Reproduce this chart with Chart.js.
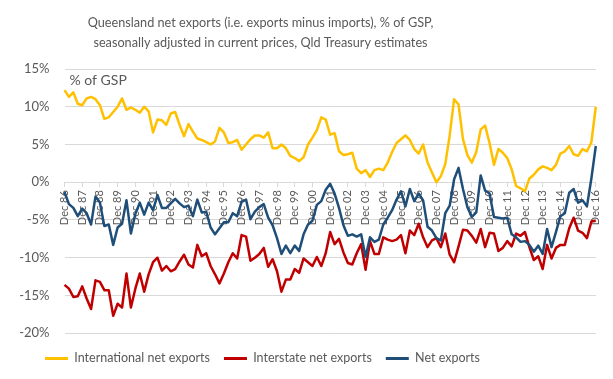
<!DOCTYPE html>
<html>
<head>
<meta charset="utf-8">
<script src="https://cdn.jsdelivr.net/npm/chart.js@4/dist/chart.umd.min.js"></script>
<style>
  html, body { margin: 0; padding: 0; background: #ffffff; }
  #wrap { width: 613px; height: 379px; position: relative; }
</style>
</head>
<body>
<div id="wrap"><canvas id="c"></canvas></div>
<script>
// ---- Data (quarterly, Dec 1986 – Dec 2016), % of GSP ----
const monthNames = ['Mar', 'Jun', 'Sep', 'Dec'];
const firstYear = 1986;
const lastYear = 2016;
const categories = [];
for (let y = firstYear; y <= lastYear; y++) {
  for (let q = 0; q < 4; q++) {
    if (y === firstYear && q < 3) continue;
    categories.push(monthNames[q] + ' ' + String(y % 100).padStart(2, '0'));
  }
}

const seriesNames = ['International net exports', 'Interstate net exports', 'Net exports'];
const seriesColors = ['#FFC000', '#C00000', '#1F4E79'];

const internationalNet = [
  12.2, 11.3, 11.9, 10.4, 10.2, 11.1, 11.3, 11.0, 10.2, 8.4, 8.6, 9.3, 10.0, 11.1, 9.6, 9.9,
  9.6, 9.2, 10.0, 9.4, 6.6, 8.3, 8.2, 7.6, 9.1, 9.3, 7.6, 6.1, 7.7, 6.7, 5.8,
  5.6, 5.3, 5.0, 5.4, 7.2, 6.6, 5.2, 5.3, 5.6, 4.3, 5.0, 5.7, 6.2, 6.2, 5.9,
  6.6, 4.5, 4.5, 5.0, 4.5, 3.5, 3.2, 2.8, 3.3, 5.0, 5.9, 6.9, 8.6, 8.3, 6.3,
  6.5, 4.1, 3.6, 3.7, 3.9, 1.8, 1.2, 1.6, 0.7, 1.6, 1.8, 1.6, 2.6, 4.0, 5.2,
  5.7, 6.2, 5.6, 4.4, 3.8, 5.0, 2.6, 1.3, 0.0, 0.8, 2.4, 6.2, 11.0, 10.3, 5.7,
  3.6, 2.6, 4.0, 7.0, 7.5, 5.2, 2.3, 4.4, 3.9, 3.2, 1.7, -0.5, -0.8, -1.2, 0.5,
  1.0, 1.7, 2.1, 1.9, 1.6, 2.3, 3.8, 4.1, 4.8, 3.7, 3.5, 4.4, 4.1, 5.3, 10.0
];

const interstateNet = [
  -13.6, -14.1, -15.2, -15.1, -13.8, -15.4, -16.8, -13.0, -13.2, -14.3, -14.3, -17.7, -16.1, -16.6, -12.1, -16.6,
  -14.1, -12.1, -14.5, -12.2, -10.6, -10.0, -11.7, -11.1, -11.8, -11.5, -10.5, -9.6, -10.9, -11.3, -8.3,
  -9.8, -9.4, -11.1, -12.2, -13.4, -12.1, -10.6, -9.4, -10.1, -7.0, -7.2, -10.4, -10.0, -9.5, -8.7,
  -11.2, -10.2, -11.8, -14.5, -12.9, -12.9, -11.5, -12.0, -10.1, -10.6, -11.1, -9.9, -11.1, -9.4, -6.6,
  -8.2, -7.5, -9.3, -10.7, -10.9, -9.4, -8.2, -11.6, -7.8, -9.5, -9.5, -7.3, -7.6, -7.8, -7.6,
  -7.0, -9.4, -6.4, -7.0, -5.5, -7.3, -8.6, -7.7, -7.4, -8.6, -6.8, -9.6, -10.6, -8.5, -6.3,
  -6.4, -7.1, -8.0, -6.2, -8.6, -6.7, -6.8, -9.1, -8.7, -7.8, -8.5, -6.8, -7.1, -6.6, -8.6,
  -10.3, -9.8, -11.5, -8.3, -10.1, -8.7, -8.3, -8.3, -6.1, -4.7, -6.4, -6.7, -7.4, -5.2, -5.1
];

const netExports = [
  -1.3, -2.9, -3.4, -4.5, -3.5, -4.1, -5.6, -1.9, -2.7, -5.8, -5.6, -8.3, -6.0, -5.5, -2.4, -6.8,
  -4.2, -2.7, -4.3, -2.7, -3.7, -1.7, -3.4, -3.4, -2.8, -2.2, -2.8, -3.3, -3.1, -4.5, -2.3,
  -4.0, -3.9, -6.0, -6.9, -6.1, -5.3, -5.3, -4.1, -4.5, -2.6, -2.3, -4.9, -3.9, -3.3, -2.9,
  -4.7, -5.7, -7.4, -9.5, -8.4, -9.4, -8.4, -9.1, -6.9, -5.6, -5.1, -3.0, -2.5, -1.0, -0.2,
  -1.5, -3.4, -5.7, -7.1, -6.9, -7.2, -6.9, -9.9, -7.3, -7.9, -7.6, -5.6, -4.7, -3.7, -2.3,
  -1.2, -3.2, -0.9, -2.5, -1.5, -2.4, -5.9, -6.4, -7.4, -7.7, -4.1, -3.1, 0.4, 1.9, -0.9,
  -3.3, -4.6, -4.0, 0.9, -1.1, -1.5, -4.6, -4.7, -4.8, -4.7, -6.9, -7.3, -7.9, -7.8, -8.3,
  -9.2, -8.4, -9.5, -6.2, -8.6, -6.6, -4.5, -4.1, -1.4, -0.9, -2.7, -2.4, -3.2, 0.5, 4.8
];

const yTicks = { min: -20, max: 15, step: 5 };
const titleLines = [
  'Queensland net exports (i.e. exports minus imports), % of GSP,',
  'seasonally adjusted in current prices, Qld Treasury estimates'
];
const axisNote = '% of GSP';

// ---- Styling ----
const FONT = 'Lato, "Open Sans", sans-serif';
const TEXT = '#595959';
const GRID = '#d9d9d9';
const LINE_W = 2.5;

const shiftPlugin = {
  id: 'shiftBlocks',
  afterLayout(chart) {
    const t = chart.titleBlock;
    if (t) { t.left = 0; t.right = 521; t.width = 521; }
    const l = chart.legend;
    if (l) { l.left = 0; l.right = 525; l.width = 525; l.top += 5; l.bottom += 5; }
  }
};

const notePlugin = {
  id: 'axisNote',
  afterDraw(chart) {
    const {ctx, chartArea, scales} = chart;
    ctx.save();
    ctx.font = '14px ' + FONT;
    ctx.fillStyle = TEXT;
    ctx.textAlign = 'left';
    ctx.textBaseline = 'middle';
    ctx.fillText(axisNote, chartArea.left + 5, scales.y.getPixelForValue(13.5));
    ctx.restore();
  }
};

Chart.defaults.font.family = FONT;
Chart.defaults.color = TEXT;

const makeDataset = (i, data, order) => ({
  label: seriesNames[i],
  data: data,
  borderColor: seriesColors[i],
  backgroundColor: seriesColors[i],
  borderWidth: LINE_W,
  pointRadius: 0,
  tension: 0,
  fill: false,
  order: order
});

new Chart(document.getElementById('c'), {
  type: 'line',
  data: {
    labels: categories,
    datasets: [
      makeDataset(0, internationalNet, 3),
      makeDataset(1, interstateNet, 2),
      makeDataset(2, netExports, 1)
    ]
  },
  plugins: [shiftPlugin, notePlugin],
  options: {
    responsive: true,
    maintainAspectRatio: false,
    animation: false,
    events: [],
    layout: { padding: { left: 0, right: 15.5, top: 0, bottom: 9.3 } },
    elements: {
      line: { borderJoinStyle: 'round' }
    },
    plugins: {
      title: {
        display: true,
        text: titleLines,
        color: TEXT,
        font: { size: 12.7, weight: 'normal', lineHeight: 20 / 12.7 },
        padding: { top: 13, bottom: 16 }
      },
      legend: {
        display: true,
        position: 'bottom',
        labels: {
          boxWidth: 23,
          boxHeight: 0,
          padding: 14,
          color: TEXT,
          font: { size: 12.5 },
          sort: (a, b) => a.datasetIndex - b.datasetIndex,
          generateLabels: (chart) => chart.data.datasets.map((ds, i) => ({
            text: ds.label,
            fillStyle: ds.borderColor,
            strokeStyle: ds.borderColor,
            lineWidth: 3,
            lineCap: 'butt',
            hidden: false,
            datasetIndex: i,
            fontColor: TEXT
          }))
        }
      },
      tooltip: { enabled: false }
    },
    scales: {
      x: {
        type: 'category',
        position: { y: 0 },
        offset: false,
        afterFit: (s) => { s.height = 0; },
        border: { display: true, color: GRID, width: 1 },
        grid: {
          drawOnChartArea: false,
          drawTicks: true,
          tickLength: 4,
          color: (c) => (c.index % 4 === 0 ? GRID : 'rgba(0,0,0,0)')
        },
        ticks: {
          autoSkip: false,
          minRotation: 90,
          maxRotation: 90,
          padding: 4,
          color: TEXT,
          font: { size: 11 },
          callback: function (v, i) { return i % 4 === 0 ? this.getLabelForValue(v) : ''; }
        }
      },
      y: {
        min: yTicks.min,
        max: yTicks.max,
        afterFit: (s) => { s.width = 64.5; },
        border: { display: false },
        grid: { color: GRID, lineWidth: 1, drawTicks: false },
        ticks: {
          stepSize: yTicks.step,
          padding: 15,
          color: TEXT,
          font: { size: 13 },
          callback: (v) => v + '%'
        }
      }
    }
  }
});
</script>
</body>
</html>
